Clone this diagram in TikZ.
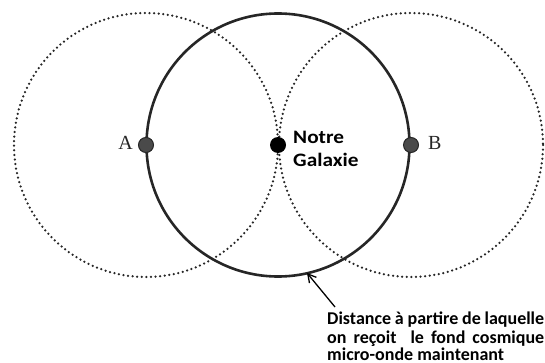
\documentclass[tikz,border=0pt]{standalone}
\usepackage{fontspec}
\setmainfont{Liberation Serif}
\newfontfamily\calib{Carlito}
\usetikzlibrary{arrows.meta}
\definecolor{ringcol}{HTML}{262626}
\definecolor{dotcol}{HTML}{4A4A4A}
\tikzset{
  bigring/.style={draw=ringcol, line width=2.6pt},
  dotring/.style={draw=ringcol, line width=2.5pt, dash pattern=on 0pt off 4.6pt, line cap=round},
  ptgray/.style={circle, draw=ringcol, fill=dotcol, line width=1pt, minimum size=15pt, inner sep=0pt},
  ptblack/.style={circle, fill=black, minimum size=16pt, inner sep=0pt},
  lbl/.style={font=\fontsize{20}{22}\selectfont, text=ringcol, inner sep=0pt},
  bold/.style={font=\calib\bfseries\fontsize{18}{23}\selectfont, inner sep=0pt},
  boldg/.style={font=\calib\bfseries\fontsize{19}{23}\selectfont, inner sep=0pt, xscale=1.12},
}
\begin{document}
\begin{tikzpicture}[x=1pt,y=-1pt]
\useasboundingbox (0,0) rectangle (545,363);
\draw[dotring] (146,145) circle (132);
\draw[dotring] (411,145) circle (132);
\draw[bigring] (278,145) circle (131.5);
\node[ptgray] (A) at (146,145) {};
\node[ptgray] (B) at (411,145) {};
\node[ptblack] (G) at (278,145) {};
\node[lbl, anchor=base east] (la) at (133,150) {A};
\node[lbl, anchor=base west] (lb) at (428,150) {B};
\node[boldg, anchor=base west] (lg1) at (293,144) {Notre};
\node[boldg, anchor=base west] (lg2) at (293,167) {Galaxie};
\node[bold, anchor=base west] (t1) at (327,324) {\makebox[217pt][s]{Distance à partire de laquelle}};
\node[bold, anchor=base west] (t2) at (327,343) {\makebox[217pt][s]{on reçoit\ \ le fond cosmique}};
\node[bold, anchor=base west] (t3) at (327,360) {micro-onde maintenant};
\coordinate (tip) at (307,273);
\coordinate (tail) at (335,307);
\draw[-{Straight Barb[length=8pt,width=9pt]}, line width=1.3pt, black] (tail) -- (tip);
\end{tikzpicture}
\end{document}
